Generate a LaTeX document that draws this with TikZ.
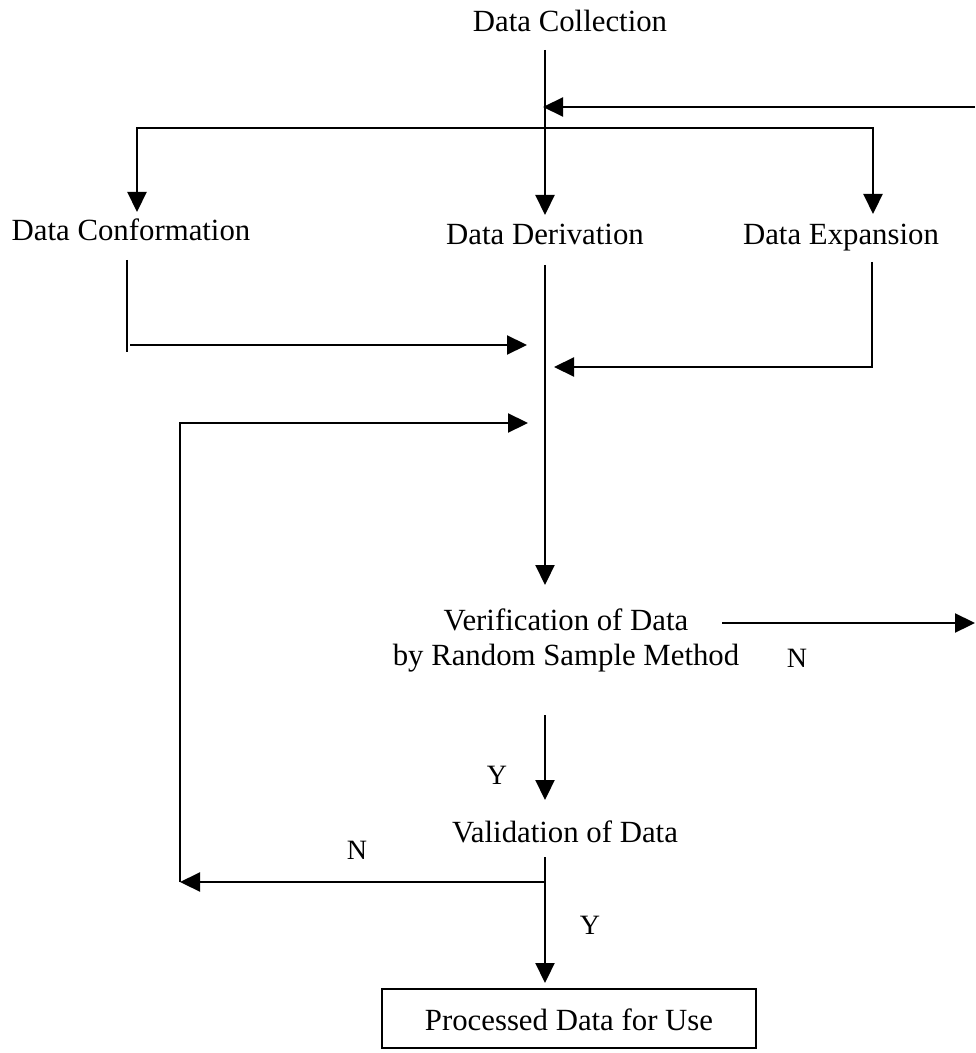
\documentclass[tikz,border=0pt]{standalone}
\usepackage{fontspec}
\setmainfont{Liberation Serif}
\usetikzlibrary{arrows.meta}
\tikzset{
  flow/.style={line width=1.1pt},
  arr/.style={flow, -{Triangle[length=10pt,width=9.5pt]}},
  arrs/.style={flow, {Triangle[length=10pt,width=9.5pt]}-{Triangle[length=10pt,width=9.5pt]}},
  lbl/.style={font=\fontsize{15.4}{17.5}\selectfont, inner sep=0pt, anchor=base},
  yn/.style={font=\fontsize{14}{16}\selectfont, inner sep=0pt},
}
\begin{document}
\begin{tikzpicture}[x=0.5pt,y=-0.5pt]
\useasboundingbox (0,0) rectangle (975,1053);

\node[lbl] (coll) at (570,32) {Data Collection};
\node[lbl] (conf) at (131,241) {Data Conformation};
\node[lbl] (deriv) at (545,245) {Data Derivation};
\node[lbl] (expa) at (841,245) {Data Expansion};
\node[lbl, align=center] (verif) at (566,665) {Verification of Data\\by Random Sample Method};
\node[lbl] (valid) at (565,842) {Validation of Data};
\node[lbl] (proc) at (569,1030) {Processed Data for Use};
\draw[line width=1pt] (382,989) rectangle (756,1048);

\node[yn] (n1) at (797,658) {N};
\node[yn] (y1) at (497,775) {Y};
\node[yn] (n2) at (357,850) {N};
\node[yn] (y2) at (590,925) {Y};

\coordinate (collB) at (545,50);
\coordinate (derivT) at (545,215);
\coordinate (backR) at (975,107);
\coordinate (backL) at (543,107);
\coordinate (splitL) at (137,128);
\coordinate (splitR) at (873,128);
\coordinate (confT) at (137,212);
\coordinate (expaT) at (873,214);
\coordinate (confB) at (127,260);
\coordinate (confE) at (127,352);
\coordinate (confJ) at (130,345);
\coordinate (confA) at (527,345);
\coordinate (derivB) at (545,265);
\coordinate (verifT) at (545,585);
\coordinate (expaB) at (872,262);
\coordinate (expaJ) at (872,367);
\coordinate (expaA) at (554,367);
\coordinate (loopT) at (180,423);
\coordinate (loopA) at (528,423);
\coordinate (loopB) at (180,882);
\coordinate (validJ) at (545,882);
\coordinate (verifB) at (545,715);
\coordinate (validT) at (545,800);
\coordinate (verifR) at (722,623);
\coordinate (outR) at (975,623);
\coordinate (validB) at (545,857);
\coordinate (procT) at (545,983);

\draw[arr] (collB) -- (derivT);
\draw[arr] (backR) -- (backL);
\draw[arrs] (confT) -- (splitL) -- (splitR) -- (expaT);
\draw[flow] (confB) -- (confE);
\draw[arr] (confJ) -- (confA);
\draw[arr] (derivB) -- (verifT);
\draw[arr] (expaB) -- (expaJ) -- (expaA);
\draw[arr] (validJ) -- (loopB);
\draw[arr] (loopB) -- (loopT) -- (loopA);
\draw[arr] (verifB) -- (validT);
\draw[arr] (verifR) -- (outR);
\draw[arr] (validB) -- (procT);
\end{tikzpicture}
\end{document}
